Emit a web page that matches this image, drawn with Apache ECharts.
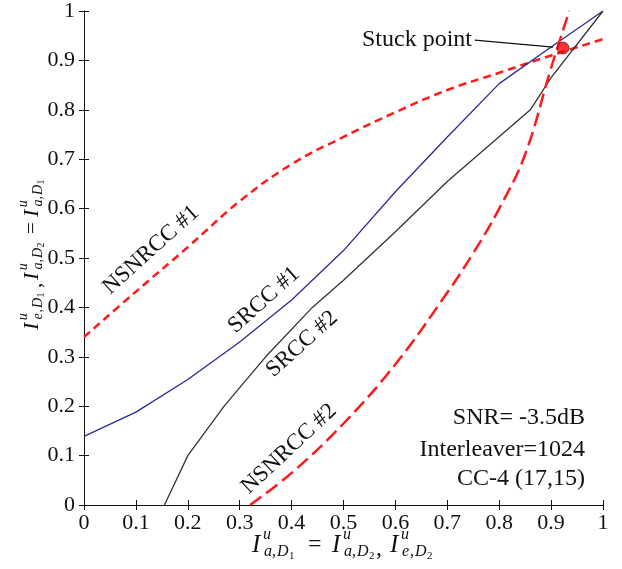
<!DOCTYPE html>
<html>
<head>
<meta charset="utf-8">
<script src="https://cdn.jsdelivr.net/npm/echarts@6/dist/echarts.min.js"></script>
<style>
  html, body { margin: 0; padding: 0; background: #fff; }
  #chart { width: 622px; height: 569px; }
</style>
</head>
<body>
<div id="chart"></div>
<script>
// 曲线数据 (x, y)
const srcc1 = [[0, 0.139], [0.1, 0.188], [0.2, 0.254], [0.3, 0.33], [0.4, 0.415],
  [0.5, 0.515], [0.6, 0.634], [0.7, 0.745], [0.8, 0.853], [0.9, 0.927], [1, 1]];
const srcc2 = [[0.155, 0], [0.2, 0.1], [0.27, 0.2], [0.35, 0.3], [0.44, 0.4],
  [0.5, 0.455], [0.6, 0.553], [0.7, 0.655], [0.86, 0.8], [0.9, 0.865], [1, 1]];
const nsnrcc1 = [[0, 0.34], [0.1, 0.432], [0.2, 0.522], [0.3, 0.615], [0.4, 0.69],
  [0.5, 0.745], [0.6, 0.795], [0.7, 0.84], [0.8, 0.875], [0.9, 0.91], [1, 0.943]];
const nsnrcc2 = [[0.32, 0], [0.4, 0.065], [0.5, 0.165], [0.6, 0.285], [0.7, 0.43],
  [0.75, 0.51], [0.8, 0.6], [0.85, 0.71], [0.9, 0.885], [0.935, 1.0]];
const stuckPoint = [[0.923, 0.925]];
const stuckLeader = [[0.753, 0.941], [0.904, 0.927]];
const curveNames = ['NSNRCC #1', 'SRCC #1', 'SRCC #2', 'NSNRCC #2'];
const infoLines = ['SNR= -3.5dB', 'Interleaver=1024', 'CC-4 (17,15)'];

const FONT = '"Liberation Serif", "Times New Roman", serif';

// 数学公式标签: I^u_{x,D_n}
function term(x0, letter, idx, k) {
  const it = {fontFamily: FONT, fontStyle: 'italic', fill: '#111', verticalAlign: 'middle'};
  return [
    {type: 'text', x: x0, y: 0, style: Object.assign({text: 'I', fontSize: 25 * k}, it)},
    {type: 'text', x: x0 + 11 * k, y: -10 * k, style: Object.assign({text: 'u', fontSize: 16 * k}, it)},
    {type: 'text', x: x0 + 12 * k, y: 7 * k, style: Object.assign({text: letter, fontSize: 16 * k}, it)},
    {type: 'text', x: x0 + 20 * k, y: 7 * k, style: Object.assign({text: ',', fontSize: 16 * k}, it)},
    {type: 'text', x: x0 + 25 * k, y: 7 * k, style: Object.assign({text: 'D', fontSize: 16 * k}, it)},
    {type: 'text', x: x0 + 37 * k, y: 11 * k, style: {text: idx, fontSize: 11 * k, fontFamily: FONT, fill: '#111', verticalAlign: 'middle'}}
  ];
}
function sym(x0, s, k) {
  return {type: 'text', x: x0, y: s === ',' ? 4 * k : 0,
    style: {text: s, fontSize: 24 * k, fontFamily: FONT, fill: '#111', verticalAlign: 'middle'}};
}

const xLabel = [].concat(term(0, 'a', '1', 1), [sym(56, '=', 1)], term(80, 'a', '2', 1),
  [sym(124, ',', 1)], term(138, 'e', '2', 1));
const yk = 0.88;
const yLabel = [].concat(term(0, 'e', '1', yk), [sym(42, ',', yk)], term(50, 'a', '2', yk),
  [sym(96, '=', yk)], term(113, 'a', '1', yk));

function rotText(text, x, y, deg) {
  return {type: 'text', x: x, y: y, rotation: deg * Math.PI / 180,
    style: {text: text, fontSize: 23, fontFamily: FONT, fill: '#111', align: 'center', verticalAlign: 'middle'}};
}
function plainText(text, x, y) {
  return {type: 'text', x: x, y: y,
    style: {text: text, fontSize: 24, fontFamily: FONT, fill: '#111', align: 'right', verticalAlign: 'middle'}};
}

const chart = echarts.init(document.getElementById('chart'));
const axisCommon = {
  type: 'value', min: 0, max: 1, interval: 0.1,
  axisLine: {show: true, lineStyle: {color: '#111', width: 1}},
  axisTick: {show: true, inside: true, length: 5, lineStyle: {color: '#111'}},
  splitLine: {show: false}
};
const labelStyle = {
  fontFamily: FONT, fontSize: 22, color: '#111',
  formatter: v => String(+v.toFixed(1))
};

chart.setOption({
  animation: false,
  grid: {left: 84, top: 10, right: 19, bottom: 64},
  xAxis: [
    Object.assign({}, axisCommon, {position: 'bottom', axisLabel: Object.assign({margin: 7}, labelStyle)}),
    Object.assign({}, axisCommon, {position: 'top', axisLabel: {show: false}})
  ],
  yAxis: [
    Object.assign({}, axisCommon, {position: 'left', axisLabel: Object.assign({margin: 9}, labelStyle)}),
    Object.assign({}, axisCommon, {position: 'right', axisLabel: {show: false}})
  ],
  series: [
    {name: curveNames[0], type: 'line', data: nsnrcc1, showSymbol: false, smooth: 0.4,
      lineStyle: {color: '#ff1a1a', width: 2.5, type: [8, 5]}},
    {name: curveNames[1], type: 'line', data: srcc1, showSymbol: false,
      lineStyle: {color: '#2a2a9a', width: 1.3}},
    {name: curveNames[2], type: 'line', data: srcc2, showSymbol: false,
      lineStyle: {color: '#333', width: 1.3}},
    {name: curveNames[3], type: 'line', data: nsnrcc2, showSymbol: false, smooth: 0.4,
      lineStyle: {color: '#ff1a1a', width: 2.5, type: [14, 6]}},
    {type: 'line', data: stuckLeader, showSymbol: false, lineStyle: {color: '#111', width: 1.2}},
    {type: 'scatter', data: stuckPoint, symbolSize: 12, z: 5,
      itemStyle: {color: '#ff0000', borderColor: '#333', borderWidth: 1}}
  ],
  graphic: [
    {type: 'group', x: 252, y: 545, children: xLabel},
    {type: 'group', x: 32, y: 330, rotation: Math.PI / 2, children: yLabel},
    rotText(curveNames[0], 151, 250, 42),
    rotText(curveNames[1], 264, 300, 42),
    rotText(curveNames[2], 302, 344, 42),
    rotText(curveNames[3], 289, 449, 43),
    plainText('Stuck point', 472, 40),
    plainText(infoLines[0], 585, 418),
    plainText(infoLines[1], 585, 450),
    plainText(infoLines[2], 585, 479)
  ]
});
</script>
</body>
</html>
